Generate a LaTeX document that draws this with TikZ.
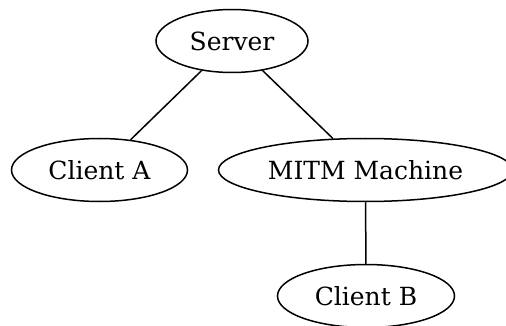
\documentclass[tikz,border=0pt]{standalone}
\usepackage{fontspec}
\setmainfont{DejaVu Serif}
\usetikzlibrary{shapes.geometric}
\begin{document}
\begin{tikzpicture}[x=1pt,y=-1pt,
  gnode/.style={ellipse,draw,line width=1.5pt,inner sep=0pt,minimum height=63pt,font=\fontsize{25}{30}\selectfont},
  gedge/.style={line width=1.5pt}]
\useasboundingbox (0,0) rectangle (506,326);
\node[gnode,minimum width=152pt] (s) at (232,41) {Server};
\node[gnode,minimum width=176pt] (a) at (99.5,170) {Client A};
\node[gnode,minimum width=294pt] (m) at (365.5,170) {MITM Machine};
\node[gnode,minimum width=177pt] (b) at (366,296) {Client B};
\draw[gedge] (s) -- (a);
\draw[gedge] (s) -- (m);
\draw[gedge] (m) -- (b);
\end{tikzpicture}
\end{document}
